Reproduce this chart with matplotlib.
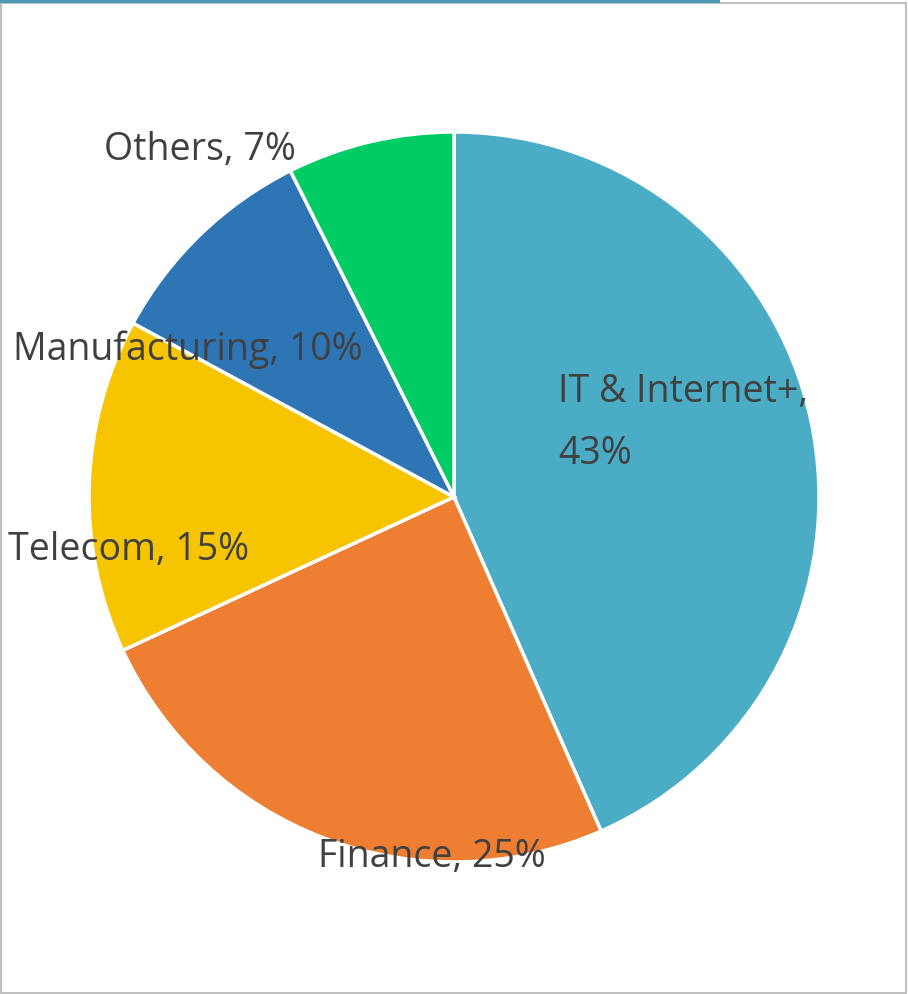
import matplotlib
matplotlib.use("Agg")
import matplotlib.pyplot as plt
from matplotlib.patches import Rectangle
from matplotlib.lines import Line2D

categories = ["IT & Internet+", "Finance", "Telecom", "Manufacturing", "Others"]
values = [43.4, 24.7, 14.8, 9.7, 7.4]
colors = ["#4BACC6", "#EE7F32", "#F6C500", "#2E75B6", "#00CC66"]
label_texts = ["IT & Internet+,\n43%", "Finance, 25%", "Telecom, 15%", "Manufacturing, 10%", "Others, 7%"]

W, H = 908, 994
fig = plt.figure(figsize=(W / 100, H / 100), dpi=100)
fig.patch.set_facecolor("white")

# frame
fig.add_artist(Rectangle((1 / W, 1 / H), (W - 3) / W, (H - 4) / H, transform=fig.transFigure,
                         fill=False, edgecolor="#BFBFBF", linewidth=1.5))
fig.add_artist(Line2D([0, 718 / W], [1 - 1.2 / H, 1 - 1.2 / H], transform=fig.transFigure,
                      color="#4A9BB5", linewidth=2.2))

cx, cy, r = 454, 497, 365
ax = fig.add_axes([(cx - r) / W, (H - cy - r) / H, 2 * r / W, 2 * r / H])
ax.axis("off")

wedges, _ = ax.pie(values, colors=colors, startangle=90, counterclock=False, radius=1,
                   wedgeprops=dict(edgecolor="white", linewidth=2.5))
ax.set_xlim(-1, 1)
ax.set_ylim(-1, 1)

def px(x, y):
    return (x - cx) / r, (cy - y) / r

font = ["Open Sans", "DejaVu Sans"]
tc = "#404040"
fs = 27

x, y = px(558, 423)
ax.text(x, y, label_texts[0], ha="left", va="center", fontsize=fs, color=tc, family=font,
        linespacing=1.85)
x, y = px(432, 857)
ax.text(x, y, label_texts[1], ha="center", va="center", fontsize=fs, color=tc, family=font)
x, y = px(129, 550)
ax.text(x, y, label_texts[2], ha="center", va="center", fontsize=fs, color=tc, family=font)
x, y = px(188, 350)
ax.text(x, y, label_texts[3], ha="center", va="center", fontsize=fs, color=tc, family=font)
x, y = px(200, 150)
ax.text(x, y, label_texts[4], ha="center", va="center", fontsize=fs, color=tc, family=font)

fig.savefig("out.png", dpi=100, facecolor="white")
